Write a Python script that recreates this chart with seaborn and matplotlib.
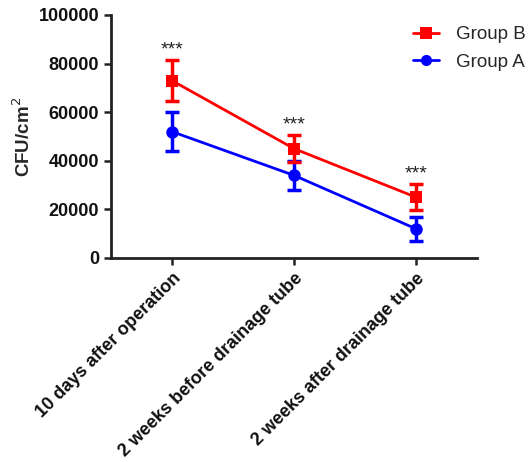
import numpy as np
import pandas as pd
import matplotlib
matplotlib.use("Agg")
import matplotlib.pyplot as plt
import seaborn as sns
from matplotlib.lines import Line2D

# data
timepoints = ["10 days after operation", "2 weeks before drainage tube", "2 weeks after drainage tube"]
group_b_mean = [73000, 45000, 25000]
group_b_err = [8500, 5500, 5300]
group_a_mean = [52000, 34000, 12000]
group_a_err = [8000, 6000, 5000]
sig_labels = ["***", "***", "***"]

sns.set_theme(style="ticks")
plt.rcParams["font.family"] = ["Liberation Sans", "DejaVu Sans"]

df = pd.DataFrame({
    "time": timepoints * 2,
    "cfu": group_b_mean + group_a_mean,
    "group": ["Group B"] * 3 + ["Group A"] * 3,
})

colors = {"Group B": "#ff0000", "Group A": "#0000ff"}
markers = {"Group B": "s", "Group A": "o"}

fig = plt.figure(figsize=(5.3, 4.62), dpi=100)
ax = fig.add_axes([0.2094, 0.4416, 0.6906, 0.526])

sns.lineplot(data=df, x="time", y="cfu", hue="group", style="group",
             palette=colors, markers=markers, dashes=False, markersize=9,
             markeredgewidth=0, linewidth=2, sort=False, ax=ax, legend=False)

x = np.arange(len(timepoints))
for means, errs, g in [(group_a_mean, group_a_err, "Group A"), (group_b_mean, group_b_err, "Group B")]:
    ax.errorbar(x, means, yerr=errs, fmt="none", ecolor=colors[g],
                elinewidth=2.5, capsize=5, capthick=2.5, zorder=3)

for xi, m, e, s in zip(x, group_b_mean, group_b_err, sig_labels):
    ax.text(xi, m + e + 800, s, ha="center", va="bottom", fontsize=14, color="#222222")

ax.set_xlim(-0.5, 2.5)
ax.set_ylim(0, 100000)
ax.set_yticks([0, 20000, 40000, 60000, 80000, 100000])
ax.set_xticks(x)
ax.set_xticklabels(timepoints, rotation=45, ha="right", rotation_mode="anchor",
                   fontsize=13, fontweight="bold")
for lab in ax.get_yticklabels():
    lab.set_fontsize(13)
    lab.set_fontweight("bold")
ax.set_xlabel("")
ax.set_ylabel("CFU/cm$^2$", fontsize=13.5, fontweight="bold", labelpad=3)

sns.despine(ax=ax)
for sp in ["left", "bottom"]:
    ax.spines[sp].set_linewidth(2)
    ax.spines[sp].set_color("#222222")
ax.tick_params(axis="both", width=1.8, length=5, color="#222222", labelcolor="#111111")

handles = [Line2D([], [], color=colors[g], marker=markers[g], markersize=8,
                  markeredgewidth=0, linewidth=2) for g in ["Group B", "Group A"]]
fig.legend(handles, ["Group B", "Group A"], loc="upper left",
           bbox_to_anchor=(0.748, 0.98), frameon=False, fontsize=13.5,
           handlelength=1.35, handletextpad=0.9, labelspacing=0.55)

fig.savefig("out.png", dpi=100)
